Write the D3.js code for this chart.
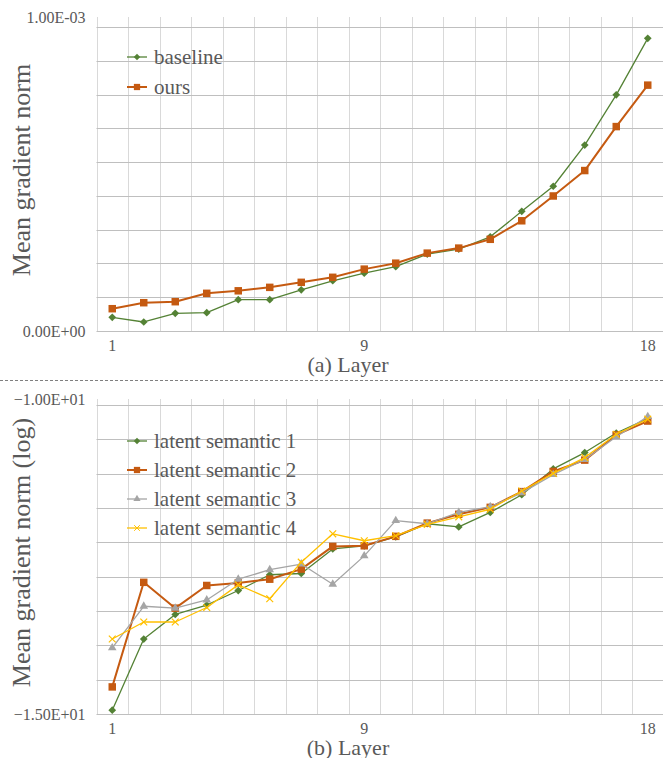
<!DOCTYPE html>
<html>
<head>
<meta charset="utf-8">
<script src="https://cdn.jsdelivr.net/npm/d3@7"></script>
<style>
body { margin: 0; background: #fff; }
</style>
</head>
<body>
<script>
const svgWidth = 663;
const svgHeight = 758;
const fontFamily = '"Liberation Serif"';
const textColor = "#595959";

// x categories (layers)
const layers = [1, 2, 3, 4, 5, 6, 7, 8, 9, 10, 11, 12, 13, 14, 15, 16, 17, 18];
const layerTicks = [1, 9, 18];

// (a) mean gradient norm
const baseline = [0.0000436, 0.0000287, 0.0000564, 0.0000583, 0.0000997, 0.0000997, 0.000131, 0.000160, 0.000184,
    0.000205, 0.000245, 0.000261, 0.000300, 0.000381, 0.000461, 0.000592, 0.000752, 0.000932];
const ours = [0.0000710, 0.0000901, 0.0000933, 0.000120, 0.000128, 0.000139, 0.000155, 0.000171, 0.000197,
    0.000216, 0.000248, 0.000264, 0.000292, 0.000351, 0.000430, 0.000511, 0.000651, 0.000783];

// (b) mean gradient norm (log)
const semantic1 = [-14.94, -13.81, -13.42, -13.27, -13.04, -12.79, -12.77, -12.38, -12.33,
    -12.19, -11.98, -12.03, -11.80, -11.52, -11.11, -10.85, -10.54, -10.31];
const semantic2 = [-14.57, -12.91, -13.32, -12.96, -12.92, -12.86, -12.70, -12.34, -12.33,
    -12.18, -11.97, -11.83, -11.72, -11.47, -11.15, -10.97, -10.57, -10.35];
const semantic3 = [-13.95, -13.29, -13.32, -13.19, -12.86, -12.71, -12.62, -12.94, -12.49,
    -11.93, -11.98, -11.80, -11.71, -11.49, -11.20, -10.96, -10.60, -10.28];
const semantic4 = [-13.81, -13.54, -13.54, -13.31, -12.95, -13.17, -12.59, -12.14, -12.25,
    -12.17, -11.99, -11.87, -11.75, -11.46, -11.18, -10.93, -10.56, -10.32];

const symbolX = d3.symbolTimes || d3.symbolX || d3.symbolCross;
const symbolD = d3.symbolDiamond2 || d3.symbolDiamond;

const svg = d3.select("body").append("svg")
    .attr("width", svgWidth)
    .attr("height", svgHeight);

// excel style scientific format, e.g. 1.00E-03
function sciFormat(v) {
    const parts = d3.format(".2e")(v).split("e");
    const ex = +parts[1];
    return parts[0] + "E" + (ex < 0 ? "-" : "+") + String(Math.abs(ex)).padStart(2, "0");
}

const x = d3.scaleBand()
    .domain(layers)
    .range([96.5, 663.5]);
const cx = d => x(d) + x.bandwidth() / 2;

function drawPanel(p) {
    const y = d3.scaleLinear().domain(p.yDomain).range([p.bottom, p.top]);
    const g = svg.append("g");

    // vertical gridlines between categories
    g.selectAll(".vgrid")
        .data(layers)
        .enter().append("line")
        .attr("x1", d => Math.round(x(d)) + 0.5)
        .attr("x2", d => Math.round(x(d)) + 0.5)
        .attr("y1", p.top)
        .attr("y2", p.bottom)
        .attr("stroke", "#d9d9d9")
        .attr("stroke-width", 1);

    // horizontal gridlines
    const grid = d3.range(1, p.gridCount + 1).map(i => p.yDomain[0] + i * p.gridStep);
    g.selectAll(".hgrid")
        .data(grid)
        .enter().append("line")
        .attr("x1", x.range()[0])
        .attr("x2", svgWidth)
        .attr("y1", d => Math.round(y(d)) + 0.5)
        .attr("y2", d => Math.round(y(d)) + 0.5)
        .attr("stroke", "#bfbfbf")
        .attr("stroke-width", 1);

    // bottom axis line
    g.append("line")
        .attr("x1", x.range()[0])
        .attr("x2", svgWidth)
        .attr("y1", Math.round(p.bottom) + 0.5)
        .attr("y2", Math.round(p.bottom) + 0.5)
        .attr("stroke", "#bfbfbf");

    // y tick labels (min and max only)
    g.selectAll(".ylabel")
        .data(p.yDomain)
        .enter().append("text")
        .attr("x", x.range()[0] - 11)
        .attr("y", d => y(d))
        .attr("dy", "0.35em")
        .attr("text-anchor", "end")
        .style("font-family", fontFamily)
        .style("font-size", "16px")
        .style("fill", textColor)
        .text(sciFormat);

    // x tick labels
    g.selectAll(".xlabel")
        .data(layerTicks)
        .enter().append("text")
        .attr("x", d => cx(d))
        .attr("y", p.bottom + 14)
        .attr("dy", "0.35em")
        .attr("text-anchor", "middle")
        .style("font-family", fontFamily)
        .style("font-size", "16px")
        .style("fill", textColor)
        .text(d => d);

    // axis titles
    g.append("text")
        .attr("x", 348)
        .attr("y", p.bottom + 33)
        .attr("dy", "0.35em")
        .attr("text-anchor", "middle")
        .style("font-family", fontFamily)
        .style("font-size", "22px")
        .style("fill", textColor)
        .text(p.xTitle);

    g.append("text")
        .attr("transform", `translate(30,${(p.top + p.bottom) / 2 - 4}) rotate(-90)`)
        .attr("text-anchor", "middle")
        .style("font-family", fontFamily)
        .style("font-size", "26px")
        .style("fill", textColor)
        .text(p.yTitle);

    // series lines and markers
    const line = d3.line()
        .x((d, i) => cx(layers[i]))
        .y(d => y(d));

    p.series.forEach(s => {
        g.append("path")
            .datum(s.values)
            .attr("fill", "none")
            .attr("stroke", s.color)
            .attr("stroke-width", s.width)
            .attr("stroke-linejoin", "round")
            .attr("d", line);

        g.selectAll(null)
            .data(s.values)
            .enter().append("path")
            .attr("transform", (d, i) => `translate(${cx(layers[i])},${y(d)})`)
            .attr("d", d3.symbol().type(s.symbol).size(s.size))
            .attr("fill", s.stroke ? "none" : s.color)
            .attr("stroke", s.stroke ? s.color : "none")
            .attr("stroke-width", s.stroke ? 1.2 : 0);
    });

    // legend
    const legend = g.selectAll(".legend")
        .data(p.series)
        .enter().append("g")
        .attr("transform", (d, i) => `translate(127,${p.legendTop + i * p.legendStep})`);

    legend.append("line")
        .attr("x1", 0)
        .attr("x2", 20)
        .attr("stroke", d => d.color)
        .attr("stroke-width", d => d.width);

    legend.append("path")
        .attr("transform", "translate(10,0)")
        .attr("d", d => d3.symbol().type(d.symbol).size(d.size * 0.7)())
        .attr("fill", d => d.stroke ? "none" : d.color)
        .attr("stroke", d => d.stroke ? d.color : "none");

    legend.append("text")
        .attr("x", 27)
        .attr("dy", "0.33em")
        .style("font-family", fontFamily)
        .style("font-size", "21px")
        .style("fill", textColor)
        .text(d => d.name);
}

drawPanel({
    top: 17,
    bottom: 331,
    yDomain: [0, 0.001],
    gridStep: 0.0001075,
    gridCount: 9,
    xTitle: "(a) Layer",
    yTitle: "Mean gradient norm",
    legendTop: 57,
    legendStep: 30,
    series: [
        { name: "baseline", values: baseline, color: "#548235", width: 1.3, symbol: symbolD, size: 38 },
        { name: "ours", values: ours, color: "#c55a11", width: 2, symbol: d3.symbolSquare, size: 56 }
    ]
});

drawPanel({
    top: 399,
    bottom: 714,
    yDomain: [-15, -10],
    gridStep: 0.545,
    gridCount: 9,
    xTitle: "(b) Layer",
    yTitle: "Mean gradient norm (log)",
    legendTop: 441,
    legendStep: 29,
    series: [
        { name: "latent semantic 1", values: semantic1, color: "#548235", width: 1.3, symbol: symbolD, size: 38 },
        { name: "latent semantic 2", values: semantic2, color: "#c55a11", width: 2, symbol: d3.symbolSquare, size: 56 },
        { name: "latent semantic 3", values: semantic3, color: "#a5a5a5", width: 1.3, symbol: d3.symbolTriangle, size: 32 },
        { name: "latent semantic 4", values: semantic4, color: "#ffc000", width: 1.3, symbol: symbolX, size: 32, stroke: true }
    ]
});

// dashed separator between the two panels
svg.append("line")
    .attr("x1", 0)
    .attr("x2", svgWidth)
    .attr("y1", 380.5)
    .attr("y2", 380.5)
    .attr("stroke", "#7f7f7f")
    .attr("stroke-dasharray", "3,2");
</script>
</body>
</html>
